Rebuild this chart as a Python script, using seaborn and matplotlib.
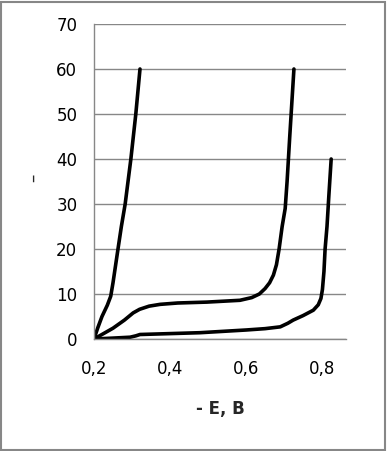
import matplotlib
matplotlib.use("Agg")
import matplotlib.pyplot as plt
import seaborn as sns
import pandas as pd
from matplotlib.ticker import FuncFormatter
from matplotlib.patches import Rectangle

sns.set_style("white")
plt.rcParams['font.family'] = ['DejaVu Sans']

# Curve 1 (steep, left)
e1 = [0.200, 0.210, 0.221, 0.235, 0.244, 0.250, 0.257, 0.264, 0.272, 0.282, 0.297, 0.310, 0.321]
i1 = [0.0, 2.5, 5.0, 7.5, 9.5, 12.5, 16.5, 20.5, 25.0, 30.0, 40.0, 50.0, 60.0]
# Curve 2 (middle)
e2 = [0.200, 0.250, 0.280, 0.303, 0.320, 0.345, 0.374, 0.420, 0.497, 0.584, 0.615, 0.635, 0.650, 0.662, 0.672, 0.680, 0.687, 0.695, 0.703, 0.708, 0.715, 0.726]
i2 = [0.0, 2.4, 4.2, 5.8, 6.6, 7.3, 7.7, 8.0, 8.2, 8.6, 9.2, 10.0, 11.2, 12.5, 14.2, 16.5, 20.0, 25.0, 29.0, 35.0, 45.0, 60.0]
# Curve 3 (right)
e3 = [0.200, 0.250, 0.295, 0.310, 0.321, 0.400, 0.479, 0.600, 0.650, 0.690, 0.710, 0.724, 0.750, 0.777, 0.790, 0.797, 0.801, 0.805, 0.808, 0.813, 0.818, 0.824]
i3 = [0.0, 0.2, 0.4, 0.7, 1.0, 1.2, 1.4, 2.0, 2.3, 2.7, 3.5, 4.2, 5.2, 6.4, 7.6, 9.0, 11.0, 15.0, 20.0, 25.0, 32.0, 40.0]

y_ticks = [0, 10, 20, 30, 40, 50, 60, 70]
x_ticks = [0.2, 0.4, 0.6, 0.8]

df = pd.concat([
    pd.DataFrame({"E": e1, "i": i1, "c": "1"}),
    pd.DataFrame({"E": e2, "i": i2, "c": "2"}),
    pd.DataFrame({"E": e3, "i": i3, "c": "3"}),
])

fig = plt.figure(figsize=(3.87, 4.51), dpi=100)
ax = fig.add_axes([94/387, 1-339/451, 252/387, 315/451])

sns.lineplot(data=df, x="E", y="i", units="c", estimator=None, sort=False,
             color="black", linewidth=2.6, ax=ax, solid_capstyle="round", solid_joinstyle="round")

ax.set_xlim(0.2, 0.863)
ax.set_ylim(0, 70)
ax.set_yticks(y_ticks)
ax.set_xticks(x_ticks)
fmt = FuncFormatter(lambda v, p: f"{v:.1f}".replace(".", ","))
ax.xaxis.set_major_formatter(fmt)
ax.yaxis.grid(True, color="#878787", linewidth=1.0)
ax.xaxis.grid(False)
for s in ["top", "right"]:
    ax.spines[s].set_visible(False)
for s in ["left", "bottom"]:
    ax.spines[s].set_color("#878787")
    ax.spines[s].set_linewidth(1.0)
ax.tick_params(axis="y", length=0, pad=12, labelsize=12, colors="black")
ax.tick_params(axis="x", direction="in", length=5, color="#878787", pad=15, labelsize=12, labelcolor="black")
ax.set_xlabel("- E, B", fontsize=12, fontweight="bold", labelpad=16)
ax.set_ylabel("")
fig.text(33/387, 1-178/451, "–", rotation=90, fontsize=12, ha="center", va="center")

fig.patches.append(Rectangle((1/387, 1/451), 384/387, 448/451, transform=fig.transFigure,
                             fill=False, edgecolor="#878787", linewidth=1.5))
fig.savefig("out.png", dpi=100)
